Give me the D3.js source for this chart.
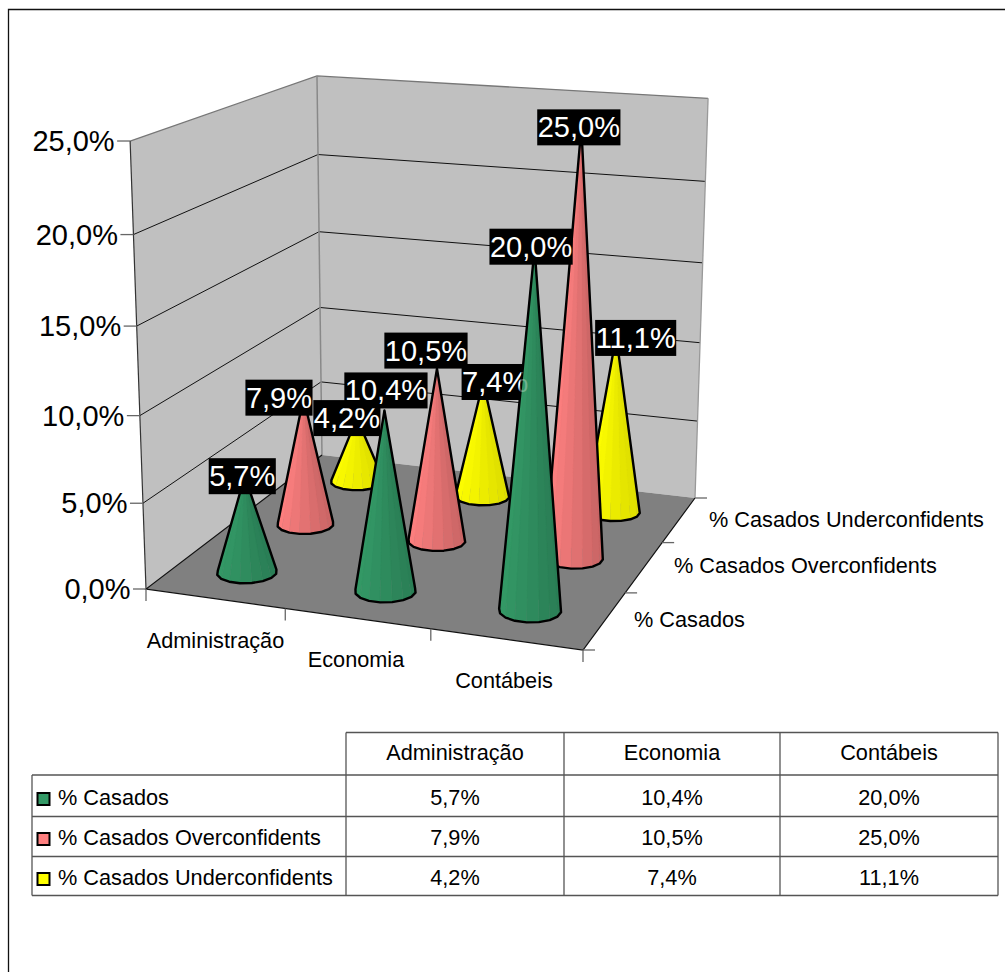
<!DOCTYPE html>
<html><head><meta charset="utf-8">
<script src="https://cdn.jsdelivr.net/npm/d3@7/dist/d3.min.js"></script>
<style>html,body{margin:0;background:#fff}svg{display:block}text{font-family:"Liberation Sans",Arial,sans-serif;fill:#000}</style>
</head><body><svg id="c" width="1005" height="972"></svg>
<script>
const categories = ["Administração","Economia","Contábeis"];
const seriesNames = ["% Casados","% Casados Overconfidents","% Casados Underconfidents"];
const casados = [5.7,10.4,20.0];
const overconfidents = [7.9,10.5,25.0];
const underconfidents = [4.2,7.4,11.1];
const yTicks = [0,5,10,15,20,25];
const seriesValues = [casados,overconfidents,underconfidents];
const seriesLight = ["#339966","#ff8080","#ffff00"];
const seriesDark = ["#2a7d55","#c76464","#dcdc00"];
// shift of each data label from its cone's apex
const labelShift = [[-2.5,1.5,-3.5],[-24.5,-11,-2.5],[-10,12,19.5]];
const labelLift = [[0,-20,-2],[0,-18,0],[0,0,2]];

const svg = d3.select("#c");
const fmt = v => d3.format(".1f")(v).replace(".",",")+"%";

// perspective box: floor corners in the picture + vanishing point of the verticals
const FL=[146,589],FR=[583,650],BR=[695,498],BL=[322,455],VP=[430,8600],K=0.05296;
const dx1=FR[0]-BR[0],dx2=BL[0]-BR[0],sx=FL[0]-FR[0]+BR[0]-BL[0];
const dy1=FR[1]-BR[1],dy2=BL[1]-BR[1],sy=FL[1]-FR[1]+BR[1]-BL[1];
const den=dx1*dy2-dx2*dy1,g=(sx*dy2-dx2*sy)/den,h=(dx1*sy-sx*dy1)/den;
const a=FR[0]-FL[0]+g*FR[0],b=BL[0]-FL[0]+h*BL[0],d=FR[1]-FL[1]+g*FR[1],e=BL[1]-FL[1]+h*BL[1];
const zS=d3.scaleLinear().domain([0,25]).range([0,1]);
const uS=d3.scaleBand().domain(d3.range(3)).range([0,1]);
const vS=d3.scaleBand().domain(d3.range(3)).range([0,1]);
function P(u,v,val){
  const w=g*u+h*v+1, X=a*u+b*v+FL[0], Y=d*u+e*v+FL[1], r=K*zS(val);
  return [(X-r*VP[0])/(w-r),(Y-r*VP[1])/(w-r)];
}
const line=d3.line();
const LF=21.7, DF=29;

// chart frame
svg.append("path").attr("d","M8.5,972V9.5H1005").attr("fill","none").attr("stroke","#111").attr("stroke-width",1.3);

// walls
svg.append("path").attr("d",line([P(0,0,0),P(0,0,25),P(0,1,25),P(0,1,0)])+"Z").attr("fill","#c0c0c0");
svg.append("path").attr("d",line([P(0,1,0),P(0,1,25),P(1,1,25),P(1,1,0)])+"Z").attr("fill","#c0c0c0");
yTicks.slice(1,-1).forEach(t=>{
  svg.append("path").attr("d",line([P(0,0,t),P(0,1,t),P(1,1,t)])).attr("fill","none").attr("stroke","#111").attr("stroke-width",1);
});
svg.append("path").attr("d",line([P(0,0,25),P(0,1,25),P(1,1,25)])).attr("fill","none").attr("stroke","#777").attr("stroke-width",1.3);
svg.append("path").attr("d",line([P(0,1,0),P(0,1,25)])).attr("fill","none").attr("stroke","#888").attr("stroke-width",1.5);
svg.append("path").attr("d",line([P(1,1,0),P(1,1,25)])).attr("fill","none").attr("stroke","#999").attr("stroke-width",1.3);
svg.append("path").attr("d",line([P(0,0,0),P(0,0,25)])).attr("fill","none").attr("stroke","#333").attr("stroke-width",1.2);
// floor
svg.append("path").attr("d",line([P(0,0,0),P(1,0,0),P(1,1,0),P(0,1,0)])+"Z").attr("fill","#808080");
svg.append("path").attr("d",line([P(0,1,0),P(0,0,0),P(1,0,0),P(1,1,0)])).attr("fill","none").attr("stroke","#111").attr("stroke-width",1.2);

// ticks
const tickC="#666";
function tk(p,dx,dy){svg.append("path").attr("d",line([p,[p[0]+dx,p[1]+dy]])).attr("stroke",tickC).attr("stroke-width",1.3).attr("fill","none");}
yTicks.forEach(t=>{
  const p=P(0,0,t); tk(p,-13,0);
  svg.append("text").attr("x",p[0]-15.5).attr("y",p[1]+10).attr("text-anchor","end").attr("font-size",DF).text(fmt(t));
});
d3.range(4).forEach(i=>tk(P(i/3,0,0),0,12));
d3.range(4).forEach(i=>tk(P(1,i/3,0),12,0));
const catLabelPos=[[215.5,648],[356,667],[504,688]];
categories.forEach((c,i)=>svg.append("text").attr("x",catLabelPos[i][0]).attr("y",catLabelPos[i][1]).attr("text-anchor","middle").attr("font-size",LF).text(c));
const serLabelPos=[[634,627],[674,573],[709,527]];
seriesNames.forEach((s,i)=>svg.append("text").attr("x",serLabelPos[i][0]).attr("y",serLabelPos[i][1]).attr("font-size",LF).text(s));

// cones
const N=16,R=0.067;
function cone(i,j,val){
  const u=uS(i)+uS.bandwidth()/2,v=vS(j)+vS.bandwidth()/2;
  const pts=d3.range(N).map(k=>{const t=2*Math.PI*(k+.5)/N;return {t,p:P(u+R*Math.cos(t),v+R*Math.sin(t),0)};});
  const apex=P(u,v,val),G=svg.append("g");
  const fac=d3.range(N).map(k=>({a:pts[k],b:pts[(k+1)%N]})).sort((x,y)=>(x.a.p[1]+x.b.p[1])-(y.a.p[1]+y.b.p[1]));
  const col=d3.interpolateRgb(seriesLight[j],seriesDark[j]);
  fac.forEach(f=>{
    const mx=(f.a.p[0]+f.b.p[0])/2,c=P(u,v,0);
    const t=Math.max(0,Math.min(1,(mx-c[0])/(R*437)*.5+.5));
    G.append("path").attr("d",line([apex,f.a.p,f.b.p])+"Z").attr("fill",col(t)).attr("stroke",col(t)).attr("stroke-width",.3);
  });
  G.append("path").attr("d",line(d3.polygonHull([apex,...pts.map(q=>q.p)]))+"Z").attr("fill","none").attr("stroke","#000").attr("stroke-width",2.4).attr("stroke-linejoin","round");
}
function labelPos(i,j,val){
  const ap=P(uS(i)+uS.bandwidth()/2,vS(j)+vS.bandwidth()/2,val);
  return [ap[0]+labelShift[j][i],ap[1]+labelLift[j][i]];
}
function label(i,j,val){
  const c=labelPos(i,j,val),G=svg.append("g");
  const T=G.append("text").attr("x",c[0]).attr("y",c[1]+10).attr("text-anchor","middle").attr("font-size",DF).style("fill","#fff").text(fmt(val));
  const w=T.node().getComputedTextLength();
  G.insert("rect","text").attr("x",c[0]-w/2-.5).attr("y",c[1]-18).attr("width",w+1).attr("height",36).attr("fill","#000");
}
[2,1,0].forEach(j=>{
  d3.range(3).forEach(i=>cone(i,j,seriesValues[j][i]));
  d3.range(3).forEach(i=>label(i,j,seriesValues[j][i]));
});
// the back-row labels show faintly through the cones in front of them
d3.range(3).forEach(i=>{
  const c=labelPos(i,2,underconfidents[i]);
  svg.append("text").attr("x",c[0]).attr("y",c[1]+10).attr("text-anchor","middle").attr("font-size",DF).style("fill","#fff").attr("opacity",.3).text(fmt(underconfidents[i]));
});

// data table
const colX=[32,346,564,780,998],rowY=[732.5,775,816.5,856.5,895.5],base=[760,805,845,885];
const tl="#555";
function seg(x1,y1,x2,y2){svg.append("line").attr("x1",x1).attr("y1",y1).attr("x2",x2).attr("y2",y2).attr("stroke",tl).attr("stroke-width",1.3);}
seg(colX[1],rowY[0],colX[4],rowY[0]);
rowY.slice(1).forEach(y=>seg(colX[0],y,colX[4],y));
seg(colX[0],rowY[1],colX[0],rowY[4]);
colX.slice(1).forEach(x=>seg(x,rowY[0],x,rowY[4]));
categories.forEach((c,i)=>svg.append("text").attr("x",(colX[i+1]+colX[i+2])/2).attr("y",base[0]).attr("text-anchor","middle").attr("font-size",LF).text(c));
seriesNames.forEach((s,j)=>{
  svg.append("rect").attr("x",37.5).attr("y",base[j+1]-12).attr("width",12).attr("height",12).attr("fill",seriesLight[j]).attr("stroke","#000").attr("stroke-width",2);
  svg.append("text").attr("x",58).attr("y",base[j+1]).attr("font-size",LF).text(s);
  seriesValues[j].forEach((v,i)=>svg.append("text").attr("x",(colX[i+1]+colX[i+2])/2).attr("y",base[j+1]).attr("text-anchor","middle").attr("font-size",LF).text(fmt(v)));
});
</script></body></html>
